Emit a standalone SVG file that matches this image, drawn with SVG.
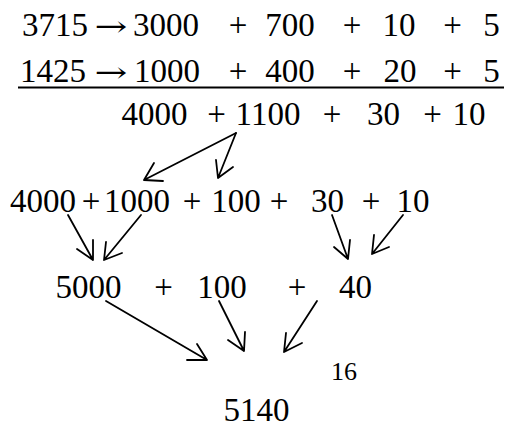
<svg xmlns="http://www.w3.org/2000/svg" width="506" height="428" viewBox="0 0 506 428">
<style>
text{font-family:"Liberation Serif","Times New Roman",serif;font-size:33px;fill:#000;text-anchor:middle}
.sm{font-size:26px}
.ar{font-family:"DejaVu Serif","DejaVu Sans",serif;font-size:28px}
.c path{fill:none;stroke:#000;stroke-width:1.8;stroke-linecap:round;stroke-linejoin:round}
</style>
<rect width="506" height="428" fill="#fff"/>
<g id="row1">
<text x="55" y="36">3715</text><text class="ar" x="111" y="36" textLength="33" lengthAdjust="spacingAndGlyphs">→</text><text x="166" y="36">3000</text><text x="238" y="36">+</text><text x="290" y="36">700</text><text x="352" y="36">+</text><text x="399" y="36">10</text><text x="452.5" y="36">+</text><text x="491.5" y="36">5</text>
</g>
<g id="row2">
<text x="53" y="82">1425</text><text class="ar" x="111" y="82" textLength="33" lengthAdjust="spacingAndGlyphs">→</text><text x="167" y="82">1000</text><text x="238" y="82">+</text><text x="290" y="82">400</text><text x="352" y="82">+</text><text x="400" y="82">20</text><text x="452.5" y="82">+</text><text x="491.5" y="82">5</text>
<line x1="18" y1="87.5" x2="504" y2="87.5" stroke="#000" stroke-width="2"/>
</g>
<g id="row3">
<text x="154.5" y="125">4000</text><text x="216.5" y="125">+</text><text x="268" y="125">1100</text><text x="332" y="125">+</text><text x="383.5" y="125">30</text><text x="432.5" y="125">+</text><text x="469" y="125">10</text>
</g>
<g id="row4">
<text x="43" y="212">4000</text><text x="91" y="212">+</text><text x="137" y="212">1000</text><text x="192" y="212">+</text><text x="236" y="212">100</text><text x="279" y="212">+</text><text x="327.5" y="212">30</text><text x="371" y="212">+</text><text x="413" y="212">10</text>
</g>
<g id="row5">
<text x="88.5" y="298">5000</text><text x="163.5" y="298">+</text><text x="222" y="298">100</text><text x="297" y="298">+</text><text x="355.5" y="298">40</text>
</g>
<g id="carry"><text class="sm" x="344" y="380">16</text></g>
<g id="result"><text x="256.5" y="421">5140</text></g>
<g id="connectors" class="c">
<path d="M236,133 L144,180 M154,163 L144,180 L163,181"/>
<path d="M236,133 L218,178 M216,160 L218,178 L233,167"/>
<path d="M68,215 L93,260 M77,249 L93,260 L93,240"/>
<path d="M141,215 L104,260 M106,242 L104,260 L122,253"/>
<path d="M332,215 L348,259 M334,247 L348,259 L350,240"/>
<path d="M403,215 L372,254 M374,235 L372,254 L389,247"/>
<path d="M106,301 L207,360 M187,360 L207,360 L197,344"/>
<path d="M219,301 L244,351 M228,340 L244,351 L245,332"/>
<path d="M317,301 L284,352 M286,333 L284,352 L302,343"/>
</g>
</svg>
